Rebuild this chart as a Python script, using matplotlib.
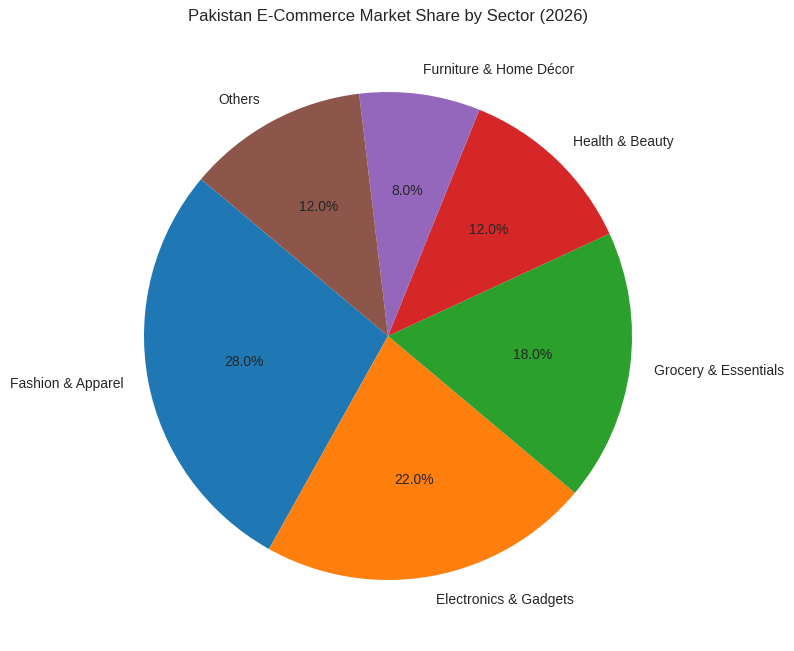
import matplotlib
matplotlib.use("Agg")
import matplotlib.pyplot as plt

plt.style.use('seaborn-v0_8-whitegrid')
plt.rcParams['font.family'] = ['Liberation Sans', 'DejaVu Sans']

sectors = ['Fashion & Apparel', 'Electronics & Gadgets', 'Grocery & Essentials',
           'Health & Beauty', 'Furniture & Home Décor', 'Others']
shares = [28, 22, 18, 12, 8, 12]
colors = ['#1f77b4', '#ff7f0e', '#2ca02c', '#d62728', '#9467bd', '#8c564b']

fig = plt.figure(figsize=(7.94, 6.51), dpi=100)
ax = fig.add_axes([83 / 794, 10 / 651, 610 / 794, 610 / 651])
ax.pie(shares, labels=sectors, colors=colors, autopct='%1.1f%%', startangle=140,
       textprops={'fontsize': 10, 'color': '#262626'})
ax.set_aspect('equal')
fig.text(388 / 794, 1 - 16 / 651, 'Pakistan E-Commerce Market Share by Sector (2026)',
         fontsize=12, ha='center', va='center', color='#262626')
fig.savefig('out.png', dpi=100)
